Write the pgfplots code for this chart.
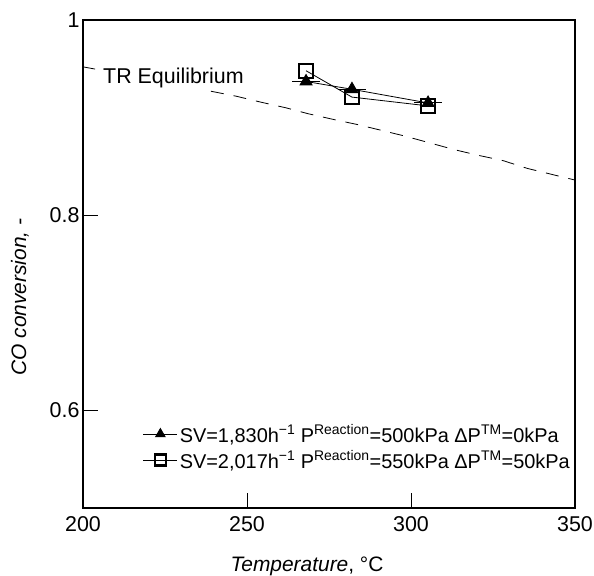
\documentclass[border=0pt]{standalone}
\usepackage{pgfplots}
\pgfplotsset{compat=1.18}
\usepackage{fontspec}
\setmainfont{Liberation Sans}
\begin{document}
\begin{tikzpicture}
\begin{axis}[
  scale only axis,
  width=492bp, height=488bp,
  xmin=200, xmax=350, ymin=0.5, ymax=1,
  xtick={200,250,300,350},
  ytick={0.6,0.8,1},
  yticklabels={0.6,0.8,1},
  tick align=inside,
  xtick pos=bottom, ytick pos=left,
  major tick length=15bp,
  axis line style={line width=1.3bp},
  every tick/.style={line width=1bp,black},
  /pgf/number format/assume math mode=true,
  tick label style={font=\fontsize{21.5}{24}\selectfont},
  xticklabel style={yshift=-5bp},
  xlabel={\textit{Temperature}, °C},
  ylabel={\textit{CO conversion, -}},
  label style={font=\fontsize{21}{24}\selectfont},
  xlabel style={xshift=-22bp, yshift=-18bp},
  ylabel style={xshift=-33bp, yshift=14bp},
  legend style={draw=none, fill=none, at={(rel axis cs:1,0.07)}, anchor=south east,
    font=\fontsize{20}{22}\selectfont, row sep=3bp, legend cell align=left},
  legend image code/.code={\draw[mark repeat=2,mark phase=2,#1, mark size=5.5bp] plot coordinates {(0bp,0bp)(17bp,0bp)(34bp,0bp)};},
  reverse legend,
]
\addplot[black, line width=0.8bp, forget plot] coordinates {(200,0.952) (203.7,0.9497)};
\addplot[black, line width=0.8bp, dash pattern=on 13bp off 10bp, forget plot] coordinates {
 (239,0.927) (246.6,0.922) (254,0.916) (261.9,0.910) (268.6,0.904)
 (276.5,0.898) (283.5,0.893) (290.9,0.887) (298.2,0.881) (305.8,0.874)
 (313.4,0.867) (321,0.861) (328,0.856) (335.4,0.848) (342.7,0.842) (350,0.836)};
\node[inner sep=0pt, anchor=west, font=\fontsize{21.5}{24}\selectfont] at (axis cs:206.1,0.941) {TR Equilibrium};
\addplot[black, line width=0.8bp, mark=square, mark size=7bp, mark options={line width=2.4bp, solid}] coordinates {
 (268.0,0.948) (282.0,0.921) (305.2,0.912)};
\addlegendentry{SV=2,017h\textsuperscript{−1} P\textsuperscript{Reaction}=550kPa ΔP\textsuperscript{TM}=50kPa}
\addplot[black, line width=0.8bp, mark=triangle*, mark size=7bp, mark options={solid},
  error bars/.cd, x dir=both, x explicit, error mark=none, error bar style={line width=1bp}] coordinates {
 (268.0,0.937) +- (4.3,0) (282.0,0.929) +- (4.3,0) (305.2,0.915) +- (4.3,0)};
\addlegendentry{SV=1,830h\textsuperscript{−1} P\textsuperscript{Reaction}=500kPa ΔP\textsuperscript{TM}=0kPa}
\end{axis}
\pgfresetboundingbox
\path[use as bounding box] ([xshift=-83bp,yshift=-68bp]current axis.south west) rectangle ([xshift=19bp,yshift=20bp]current axis.north east);
\end{tikzpicture}
\end{document}
